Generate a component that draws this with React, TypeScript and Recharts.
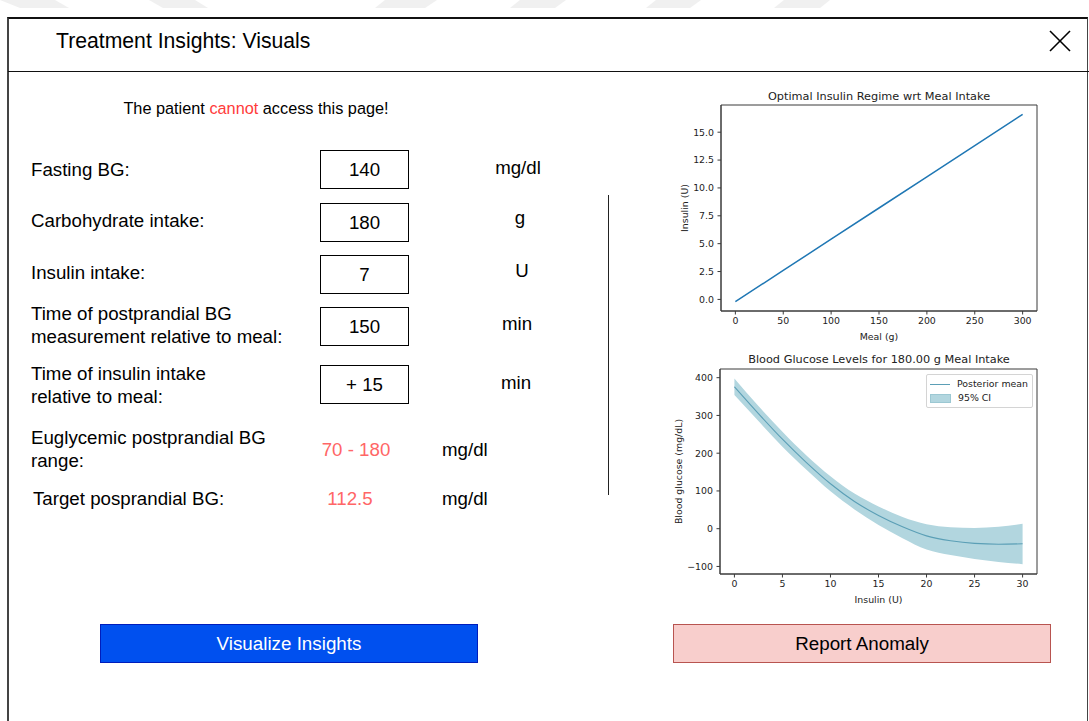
import React from "react";
import {
  ComposedChart,
  LineChart,
  Line,
  Area,
  XAxis,
  YAxis,
  CartesianGrid,
  Legend,
} from "recharts";

// optimal insulin vs meal size
const MEAL_G = [0, 50, 100, 150, 200, 250, 300];
const OPTIMAL_INSULIN = [-0.2, 2.6, 5.4, 8.2, 11.0, 13.8, 16.6];
const MEAL_TICKS = [0, 50, 100, 150, 200, 250, 300];
const INSULIN_TICKS = [0, 2.5, 5, 7.5, 10, 12.5, 15];

// blood glucose response for a 180 g meal
const INSULIN_U = [0, 2.5, 5, 7.5, 10, 12.5, 15, 17.5, 20, 22.5, 25, 27.5, 30];
const BG_MEAN = [376, 305, 237, 175, 119, 72, 35, 5, -19, -32, -39, -41, -40];
const BG_LOWER = [354, 285, 217, 156, 99, 51, 10, -25, -55, -70, -80, -88, -94];
const BG_UPPER = [398, 325, 257, 194, 139, 93, 59, 31, 12, 4, 2, 5, 13];
const DOSE_TICKS = [0, 5, 10, 15, 20, 25, 30];
const BG_TICKS = [-100, 0, 100, 200, 300, 400];

const UI_FONT = '"Liberation Sans", Arial, sans-serif';
const PLOT_FONT = '"DejaVu Sans", sans-serif';
const FRAME = "#3a3a3a";
const PLOT_TEXT = { fontSize: 9.4, fill: "#222", fontFamily: PLOT_FONT };
const MEAN_COLOR = "#5b9fb6";
const BAND_COLOR = "#b2d6df";

const mealData = MEAL_G.map((meal, i) => ({ meal, insulin: OPTIMAL_INSULIN[i] }));
const bgData = INSULIN_U.map((dose, i) => ({
  dose,
  mean: BG_MEAN[i],
  ci: [BG_LOWER[i], BG_UPPER[i]],
}));

const edgeRows = ({ offset }: any) => [offset.top, offset.top + offset.height];
const edgeCols = ({ offset }: any) => [offset.left, offset.left + offset.width];
const minusFmt = (v: number) => (v < 0 ? `\u2212${-v}` : `${v}`);

function PlotTitle({ text, top }: { text: string; top: number }) {
  return (
    <div
      style={{
        position: "absolute",
        left: 721,
        width: 316,
        top,
        textAlign: "center",
        fontFamily: PLOT_FONT,
        fontSize: 11.3,
        color: "#222",
        lineHeight: "13px",
        whiteSpace: "nowrap",
      }}
    >
      {text}
    </div>
  );
}

function BgLegend() {
  return (
    <div
      style={{
        border: "1px solid #d4d4d4",
        borderRadius: 2,
        background: "rgba(255,255,255,0.85)",
        padding: "2px 3px",
        fontFamily: PLOT_FONT,
        fontSize: 9.4,
        color: "#222",
        lineHeight: "14px",
      }}
    >
      <div style={{ display: "flex", alignItems: "center" }}>
        <span style={{ width: 20, borderTop: `1px solid ${MEAN_COLOR}`, marginRight: 7 }} />
        Posterior mean
      </div>
      <div style={{ display: "flex", alignItems: "center" }}>
        <span
          style={{
            width: 19,
            height: 7,
            background: BAND_COLOR,
            border: "1px solid #9cc8d3",
            marginRight: 7,
          }}
        />
        95% CI
      </div>
    </div>
  );
}

function MealChart() {
  return (
    <div style={{ position: "absolute", left: 665, top: 85 }}>
      <LineChart
        width={380}
        height={260}
        data={mealData}
        margin={{ top: 20, right: 8, bottom: 3, left: 0 }}
      >
        <CartesianGrid
          stroke={FRAME}
          horizontalCoordinatesGenerator={edgeRows}
          verticalCoordinatesGenerator={edgeCols}
        />
        <XAxis
          dataKey="meal"
          type="number"
          domain={[-15, 315]}
          ticks={MEAL_TICKS}
          height={31}
          stroke={FRAME}
          tickSize={3.5}
          tickMargin={3}
          tick={PLOT_TEXT}
          label={{
            value: "Meal (g)",
            position: "insideBottom",
            offset: 2,
            style: PLOT_TEXT,
          }}
        />
        <YAxis
          type="number"
          domain={[-1.04, 17.44]}
          ticks={INSULIN_TICKS}
          width={56}
          stroke={FRAME}
          tickSize={3.5}
          tickMargin={3.5}
          tick={PLOT_TEXT}
          tickFormatter={(v: number) => v.toFixed(1)}
          label={{
            value: "Insulin (U)",
            angle: -90,
            position: "insideLeft",
            offset: 20,
            style: { ...PLOT_TEXT, textAnchor: "middle" },
          }}
        />
        <Line
          dataKey="insulin"
          type="linear"
          stroke="#1f77b4"
          strokeWidth={1.5}
          dot={false}
          isAnimationActive={false}
        />
      </LineChart>
    </div>
  );
}

function GlucoseChart() {
  return (
    <div style={{ position: "absolute", left: 665, top: 350 }}>
      <ComposedChart
        width={380}
        height={260}
        data={bgData}
        margin={{ top: 19, right: 8, bottom: 5, left: 0 }}
      >
        <CartesianGrid
          stroke={FRAME}
          horizontalCoordinatesGenerator={edgeRows}
          verticalCoordinatesGenerator={edgeCols}
        />
        <XAxis
          dataKey="dose"
          type="number"
          domain={[-1.5, 31.5]}
          ticks={DOSE_TICKS}
          height={31}
          stroke={FRAME}
          tickSize={3.5}
          tickMargin={3}
          tick={PLOT_TEXT}
          label={{
            value: "Insulin (U)",
            position: "insideBottom",
            offset: 2,
            style: PLOT_TEXT,
          }}
        />
        <YAxis
          type="number"
          domain={[-120, 423]}
          ticks={BG_TICKS}
          width={55}
          stroke={FRAME}
          tickSize={3.5}
          tickMargin={3.5}
          tick={PLOT_TEXT}
          tickFormatter={minusFmt}
          label={{
            value: "Blood glucose (mg/dL)",
            angle: -90,
            position: "insideLeft",
            offset: 14,
            style: { ...PLOT_TEXT, textAnchor: "middle" },
          }}
        />
        <Area
          dataKey="ci"
          type="monotone"
          stroke="none"
          fill={BAND_COLOR}
          fillOpacity={1}
          isAnimationActive={false}
        />
        <Line
          dataKey="mean"
          type="monotone"
          stroke={MEAN_COLOR}
          strokeWidth={1.1}
          dot={false}
          isAnimationActive={false}
        />
        <Legend
          layout="vertical"
          align="center"
          verticalAlign="middle"
          wrapperStyle={{ top: 24, left: 261, width: 107, height: "auto" }}
          content={() => <BgLegend />}
        />
      </ComposedChart>
    </div>
  );
}

function Text({
  left,
  top,
  width,
  size = 18.7,
  lh = 20,
  color = "#000",
  align = "left",
  children,
}: {
  left: number;
  top: number;
  width?: number;
  size?: number;
  lh?: number;
  color?: string;
  align?: "left" | "center";
  children: React.ReactNode;
}) {
  return (
    <div
      style={{
        position: "absolute",
        left,
        top,
        width,
        fontSize: size,
        lineHeight: `${lh}px`,
        color,
        textAlign: align,
        whiteSpace: "nowrap",
        fontFamily: UI_FONT,
      }}
    >
      {children}
    </div>
  );
}

function ValueBox({ top, value }: { top: number; value: string }) {
  return (
    <div
      style={{
        position: "absolute",
        left: 320,
        top,
        width: 87,
        height: 37,
        border: "1px solid #000",
        fontFamily: UI_FONT,
        fontSize: 18.7,
        lineHeight: "37px",
        textAlign: "center",
      }}
    >
      {value}
    </div>
  );
}

function Button({
  left,
  label,
  fill,
  border,
  color,
}: {
  left: number;
  label: string;
  fill: string;
  border: string;
  color: string;
}) {
  return (
    <div
      style={{
        position: "absolute",
        left,
        top: 624,
        width: 376,
        height: 37,
        background: fill,
        border: `1px solid ${border}`,
        color,
        fontFamily: UI_FONT,
        fontSize: 18.8,
        lineHeight: "38px",
        textAlign: "center",
      }}
    >
      {label}
    </div>
  );
}

export default function App() {
  return (
    <div
      style={{
        position: "absolute",
        left: 0,
        top: 0,
        width: 1089,
        height: 721,
        overflow: "hidden",
        background: "#fff",
      }}
    >
      <svg width={1089} height={10} style={{ position: "absolute", left: 0, top: 0 }}>
        {[
          "0,0 55,0 69,8 20,8",
          "149,0 195,0 208,8 163,8",
          "385,0 437,0 425,8 375,8",
          "520,0 566,0 555,8 510,8",
          "656,0 701,0 690,8 646,8",
          "784,0 830,0 820,8 774,8",
        ].map((p) => (
          <polygon key={p} points={p} fill="#f0f0f0" />
        ))}
      </svg>

      {/* dialog frame */}
      <div
        style={{
          position: "absolute",
          left: 7,
          top: 17,
          width: 1078,
          height: 720,
          borderLeft: "2px solid #444",
          borderTop: "2px solid #111",
          borderRight: "1px solid #444",
        }}
      />
      <div style={{ position: "absolute", left: 8, top: 71, width: 1081, height: 1, background: "#111" }} />

      <Text left={56} top={30} size={21.2} lh={22}>
        Treatment Insights: Visuals
      </Text>
      <svg width={24} height={24} style={{ position: "absolute", left: 1048, top: 29 }}>
        <line x1={2} y1={2} x2={22} y2={22} stroke="#000" strokeWidth={1.6} />
        <line x1={22} y1={2} x2={2} y2={22} stroke="#000" strokeWidth={1.6} />
      </svg>

      <Text left={80} top={98} width={352} size={16.3} lh={20} align="center">
        The patient <span style={{ color: "#ff3b3b" }}>cannot</span> access this page!
      </Text>

      {/* input form */}
      <Text left={31} top={160}>Fasting BG:</Text>
      <ValueBox top={150} value="140" />
      <Text left={478} top={158} width={80} align="center">mg/dl</Text>

      <Text left={31} top={211}>Carbohydrate intake:</Text>
      <ValueBox top={203} value="180" />
      <Text left={478} top={208} width={84} align="center">g</Text>

      <Text left={31} top={263}>Insulin intake:</Text>
      <ValueBox top={255} value="7" />
      <Text left={482} top={261} width={80} align="center">U</Text>

      <Text left={31} top={302} lh={23}>
        Time of postprandial BG
        <br />
        measurement relative to meal:
      </Text>
      <ValueBox top={307} value="150" />
      <Text left={477} top={314} width={80} align="center">min</Text>

      <Text left={31} top={362} lh={23}>
        Time of insulin intake
        <br />
        relative to meal:
      </Text>
      <ValueBox top={365} value="+ 15" />
      <Text left={476} top={373} width={80} align="center">min</Text>

      <Text left={31} top={426} lh={23}>
        Euglycemic postprandial BG
        <br />
        range:
      </Text>
      <Text left={306} top={440} width={100} align="center" color="#ff6666">70 - 180</Text>
      <Text left={442} top={440}>mg/dl</Text>

      <Text left={33} top={489}>Target posprandial BG:</Text>
      <Text left={300} top={489} width={100} align="center" color="#ff6666">112.5</Text>
      <Text left={442} top={489}>mg/dl</Text>

      <div style={{ position: "absolute", left: 608, top: 195, width: 1, height: 300, background: "#222" }} />

      <PlotTitle text="Optimal Insulin Regime wrt Meal Intake" top={90} />
      <MealChart />
      <PlotTitle text="Blood Glucose Levels for 180.00 g Meal Intake" top={353} />
      <GlucoseChart />

      <Button left={100} label="Visualize Insights" fill="#0050ef" border="#001dbc" color="#fff" />
      <Button left={673} label="Report Anomaly" fill="#f8cecc" border="#b85450" color="#000" />
    </div>
  );
}
